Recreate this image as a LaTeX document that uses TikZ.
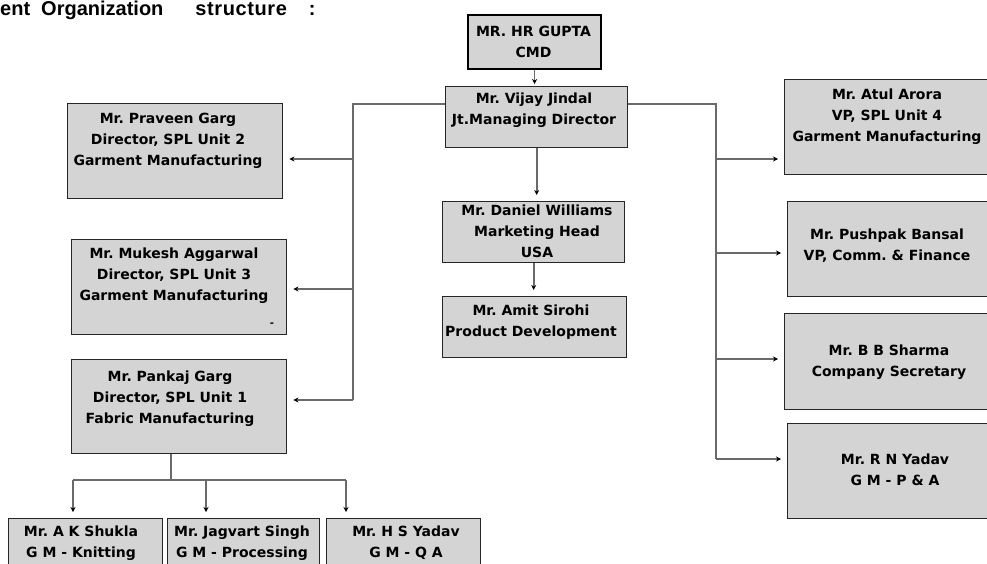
\documentclass[tikz,border=0pt]{standalone}
\usepackage{fontspec}
\newfontfamily\boxfont{DejaVu Sans}
\newfontfamily\titlefont{Liberation Sans}
\usetikzlibrary{arrows.meta,calc}
\definecolor{boxgray}{HTML}{D4D4D4}
\definecolor{linegray}{HTML}{6A6A6A}
\tikzset{
  box/.style={draw=black!85, line width=1.4pt, fill=boxgray, rectangle, inner sep=0pt, anchor=north west},
  topbox/.style={box, draw=black, line width=2.2pt},
  txt/.style={font=\boxfont\bfseries\fontsize{14}{21}\selectfont, align=center, inner sep=0pt, text=black},
  ttl/.style={font=\titlefont\bfseries\fontsize{20}{20}\selectfont, anchor=base west, inner sep=0pt, text=black},
  conn/.style={draw=linegray, line width=1.6pt},
  arr/.style={conn, -{Stealth[length=5pt,width=5pt,color=black]}, shorten >=6pt},
}
\begin{document}
\frenchspacing
\begin{tikzpicture}[x=1pt,y=-1pt]
\useasboundingbox (0,0) rectangle (987,563);
\clip (0,0) rectangle (987,563);
\fill[white] (0,0) rectangle (987,563);

% title
\node[ttl] (title) at (0,15) {ent\hspace{11pt}Organization\hspace{32pt}s\hspace{0.6pt}t\hspace{0.6pt}r\hspace{0.6pt}u\hspace{0.6pt}c\hspace{0.6pt}t\hspace{0.6pt}u\hspace{0.6pt}r\hspace{0.6pt}e\hspace{22pt}:};

% boxes
\node[topbox, minimum width=133pt, minimum height=54pt] (cmd) at (467,14) {};
\node[box, minimum width=182pt, minimum height=61pt] (jindal) at (445,86) {};
\node[box, minimum width=215pt, minimum height=95pt] (praveen) at (67,103) {};
\node[box, minimum width=215pt, minimum height=95pt] (mukesh) at (71,239) {};
\node[box, minimum width=215pt, minimum height=94pt] (pankaj) at (71,359) {};
\node[box, minimum width=182pt, minimum height=61pt] (daniel) at (442,201) {};
\node[box, minimum width=184pt, minimum height=61pt] (amit) at (442,296) {};
\node[box, minimum width=210pt, minimum height=95pt] (atul) at (784,79) {};
\node[box, minimum width=207pt, minimum height=95pt] (pushpak) at (787,201) {};
\node[box, minimum width=210pt, minimum height=96pt] (sharma) at (784,313) {};
\node[box, minimum width=213pt, minimum height=95pt] (rnyadav) at (787,423) {};
\node[box, minimum width=154pt, minimum height=60pt] (shukla) at (8,518) {};
\node[box, minimum width=152pt, minimum height=60pt] (jagvart) at (167,518) {};
\node[box, minimum width=154pt, minimum height=60pt] (hsyadav) at (326,518) {};

% texts
\node[txt] (cmd-t) at (533.5,42) {MR. HR GUPTA\\CMD};
\node[txt] (jindal-t) at (534,110) {Mr. Vijay Jindal\\Jt.Managing Director};
\node[txt] (praveen-t) at (168,141) {Mr. Praveen Garg\\Director, SPL Unit 2\\Garment Manufacturing};
\node[txt] (mukesh-t) at (174,276) {Mr. Mukesh Aggarwal\\Director, SPL Unit 3\\Garment Manufacturing};
\node[txt, font=\boxfont\bfseries\fontsize{10}{10}\selectfont] (mukesh-d) at (272,325) {-};
\node[txt] (pankaj-t) at (170,399) {Mr. Pankaj Garg\\Director, SPL Unit 1\\Fabric Manufacturing};
\node[txt] (daniel-t) at (537,231) {Mr. Daniel Williams\\Marketing Head\\USA};
\node[txt] (amit-t) at (531,322) {Mr. Amit Sirohi\\Product Development};
\node[txt] (atul-t) at (887,117) {Mr. Atul Arora\\VP, SPL Unit 4\\Garment Manufacturing};
\node[txt] (pushpak-t) at (887,246) {Mr. Pushpak Bansal\\VP, Comm. \& Finance};
\node[txt] (sharma-t) at (889,362) {Mr. B B Sharma\\Company Secretary};
\node[txt] (rnyadav-t) at (895,470) {Mr. R N Yadav\\G M - P \& A};
\node[txt] (shukla-t) at (81,543) {Mr. A K Shukla\\G M - Knitting};
\node[txt] (jagvart-t) at (242,543) {Mr. Jagvart Singh\\G M - Processing};
\node[txt] (hsyadav-t) at (406,543) {Mr. H S Yadav\\G M - Q A};

% top connectors
\draw[arr, shorten >=2pt] (cmd.south) -- (cmd.south |- jindal.north);
\draw[arr] (jindal.south) -- (jindal.south |- daniel.north);
\draw[arr] (daniel.south) -- (daniel.south |- amit.north);

% left bus
\coordinate (lbt) at (353,104);
\coordinate (lb1) at (353,159);
\coordinate (lb2) at (353,289);
\coordinate (lbb) at (353,400);
\draw[conn] (jindal.west |- lbt) -- (lbt) -- (lbb);
\draw[arr] (lb1) -- (lb1 -| praveen.east);
\draw[arr] (lb2) -- (lb2 -| mukesh.east);
\draw[arr] (lbb) -- (lbb -| pankaj.east);

% right bus
\coordinate (rbt) at (716,104);
\coordinate (rb1) at (716,159);
\coordinate (rb2) at (716,253);
\coordinate (rb3) at (716,359);
\coordinate (rbb) at (716,459);
\draw[conn] (jindal.east |- rbt) -- (rbt) -- (rbb);
\draw[arr] (rb1) -- (rb1 -| atul.west);
\draw[arr] (rb2) -- (rb2 -| pushpak.west);
\draw[arr] (rb3) -- (rb3 -| sharma.west);
\draw[arr] (rbb) -- (rbb -| rnyadav.west);

% bottom tree
\coordinate (pb) at (171,480);
\coordinate (pl) at (73,480);
\coordinate (pm) at (206,480);
\coordinate (pr) at (346,480);
\draw[conn] (pankaj.south -| pb) -- (pb);
\draw[conn] (pl) -- (pr);
\draw[arr] (pl) -- (pl |- shukla.north);
\draw[arr] (pm) -- (pm |- jagvart.north);
\draw[arr] (pr) -- (pr |- hsyadav.north);
\end{tikzpicture}
\end{document}
